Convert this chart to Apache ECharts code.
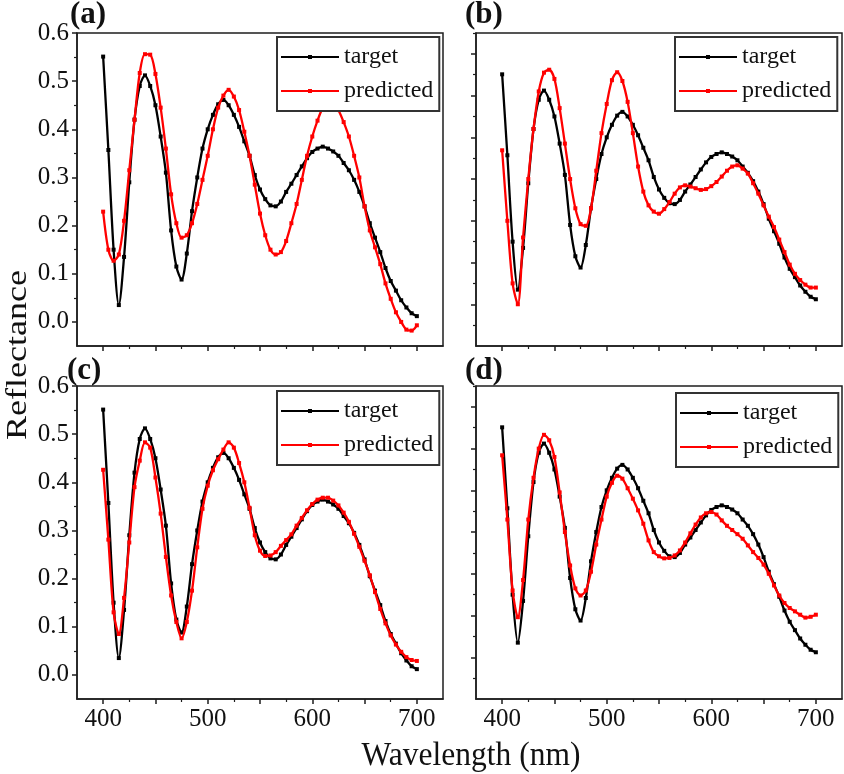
<!DOCTYPE html>
<html>
<head>
<meta charset="utf-8">
<script src="https://cdn.jsdelivr.net/npm/echarts@6/dist/echarts.min.js"></script>
<style>
html,body{margin:0;padding:0;background:#fff;}
#chart{width:844px;height:774px;}
</style>
</head>
<body>
<div id="chart"></div>
<script>
// ---- data ----
const wavelength = [400,405,410,415,420,425,430,435,440,445,450,455,460,465,470,475,480,485,490,495,500,505,510,515,520,525,530,535,540,545,550,555,560,565,570,575,580,585,590,595,600,605,610,615,620,625,630,635,640,645,650,655,660,665,670,675,680,685,690,695,700];

const target = [0.551,0.357,0.15,0.035,0.135,0.29,0.42,0.49,0.512,0.49,0.45,0.385,0.31,0.19,0.115,0.088,0.142,0.23,0.30,0.36,0.40,0.43,0.452,0.461,0.45,0.43,0.405,0.375,0.345,0.305,0.275,0.255,0.242,0.24,0.25,0.27,0.287,0.305,0.323,0.34,0.353,0.36,0.364,0.36,0.354,0.345,0.33,0.315,0.295,0.27,0.24,0.205,0.175,0.145,0.112,0.085,0.065,0.045,0.03,0.018,0.012];

const predictedA = [0.229,0.15,0.127,0.14,0.21,0.315,0.42,0.517,0.556,0.555,0.515,0.445,0.36,0.265,0.205,0.175,0.18,0.205,0.245,0.295,0.345,0.40,0.445,0.47,0.482,0.468,0.44,0.395,0.345,0.285,0.225,0.18,0.15,0.14,0.145,0.168,0.205,0.245,0.295,0.345,0.385,0.418,0.445,0.46,0.46,0.44,0.415,0.385,0.345,0.3,0.24,0.19,0.155,0.12,0.08,0.048,0.02,0.0,-0.016,-0.018,-0.007];

const predictedB = [0.369,0.2,0.05,0.0,0.16,0.30,0.42,0.51,0.555,0.562,0.54,0.47,0.385,0.3,0.23,0.192,0.188,0.23,0.32,0.41,0.48,0.537,0.556,0.535,0.485,0.41,0.33,0.27,0.237,0.222,0.217,0.228,0.245,0.265,0.28,0.285,0.282,0.278,0.274,0.276,0.283,0.293,0.306,0.32,0.33,0.333,0.325,0.313,0.29,0.265,0.237,0.21,0.185,0.155,0.125,0.095,0.073,0.058,0.047,0.04,0.04];

const predictedC = [0.426,0.281,0.13,0.085,0.16,0.275,0.39,0.445,0.483,0.472,0.41,0.335,0.245,0.165,0.11,0.076,0.11,0.175,0.265,0.345,0.393,0.425,0.448,0.468,0.483,0.472,0.44,0.40,0.347,0.29,0.258,0.247,0.248,0.255,0.268,0.28,0.292,0.31,0.326,0.342,0.355,0.364,0.368,0.368,0.362,0.352,0.337,0.318,0.293,0.266,0.237,0.207,0.172,0.137,0.107,0.082,0.063,0.048,0.037,0.031,0.029];

const predictedD = [0.484,0.33,0.16,0.096,0.185,0.33,0.43,0.5,0.533,0.52,0.48,0.395,0.3,0.22,0.165,0.148,0.16,0.205,0.27,0.33,0.385,0.418,0.435,0.428,0.405,0.38,0.352,0.32,0.28,0.252,0.242,0.237,0.238,0.244,0.256,0.275,0.297,0.318,0.335,0.345,0.348,0.342,0.328,0.315,0.305,0.295,0.284,0.268,0.252,0.238,0.222,0.2,0.172,0.148,0.13,0.118,0.11,0.102,0.095,0.097,0.102];

const panelLabels = ['(a)','(b)','(c)','(d)'];
const seriesNames = ['target','predicted'];
const xTickLabels = [400,500,600,700];
const xMajorTicks = [400,450,500,550,600,650,700];
const xMinorTicks = [425,475,525,575,625,675];
const yTickLabels = [0,0.1,0.2,0.3,0.4,0.5,0.6];
const yMinorTicksAC = [0.05,0.15,0.25,0.35,0.45,0.55];
const yMinorTicksBD = [-0.05,0.05,0.15,0.25,0.35,0.45,0.55,0.65];
const xTitle = 'Wavelength (nm)';
const yTitle = 'Reflectance';

// ---- layout ----
const FONT = 'Liberation Serif';
const INK = '#111';
const FRAME = '#1e1e1e';
const grids = [
  {left:77, top:33, width:366, height:313},
  {left:476, top:33, width:366, height:313},
  {left:77, top:386, width:366, height:313},
  {left:476, top:386, width:366, height:313}
];
const yRanges = [[-0.05,0.6],[-0.1,0.65],[-0.05,0.6],[-0.1,0.65]];
const showYLabels = [true,false,true,false];
const showXLabels = [false,false,true,true];
const legendPos = [
  {left:277, top:37},
  {left:675, top:37},
  {left:277, top:391},
  {left:676, top:393}
];
const labelPos = [[70,32],[465,32],[67,388],[465,388]];
const predictedSets = [predictedA, predictedB, predictedC, predictedD];

const xAxis = [], yAxis = [], series = [], legend = [], graphic = [];
grids.forEach((g, i) => {
  xAxis.push({
    type:'value', gridIndex:i, min:375, max:725, position:'bottom',
    axisLine:{show:true, onZero:false, lineStyle:{color:FRAME, width:1.5}},
    axisTick:{show:true, customValues:xMajorTicks, length:5, lineStyle:{color:FRAME, width:1.5}},
    axisLabel:{show:showXLabels[i], customValues:xTickLabels, fontFamily:FONT, fontSize:25, color:INK, margin:8},
    splitLine:{show:false}
  });
  xAxis.push({
    type:'value', gridIndex:i, min:375, max:725, position:'bottom',
    axisLine:{show:false, onZero:false},
    axisTick:{show:true, customValues:xMinorTicks, length:3, lineStyle:{color:FRAME, width:1.2}},
    axisLabel:{show:false},
    splitLine:{show:false}
  });
  yAxis.push({
    type:'value', gridIndex:i, min:yRanges[i][0], max:yRanges[i][1], position:'left',
    axisLine:{show:true, onZero:false, lineStyle:{color:FRAME, width:1.5}},
    axisTick:{show:true, customValues:yTickLabels, length:5, lineStyle:{color:FRAME, width:1.5}},
    axisLabel:{show:showYLabels[i], customValues:yTickLabels, fontFamily:FONT, fontSize:25, color:INK, margin:8,
      formatter:(v)=>Number(v).toFixed(1)},
    splitLine:{show:false}
  });
  yAxis.push({
    type:'value', gridIndex:i, min:yRanges[i][0], max:yRanges[i][1], position:'left',
    axisLine:{show:false, onZero:false},
    axisTick:{show:true, customValues:(i%2===0?yMinorTicksAC:yMinorTicksBD), length:3, lineStyle:{color:FRAME, width:1.2}},
    axisLabel:{show:false},
    splitLine:{show:false}
  });
  const sets = [target, predictedSets[i]];
  const colors = ['#000000','#ff0000'];
  sets.forEach((arr, k) => {
    series.push({
      name: seriesNames[k], type:'line', xAxisIndex:2*i, yAxisIndex:2*i,
      data: wavelength.map((w, j) => [w, arr[j]]),
      smooth:0.3, symbol:'rect', symbolSize:4, showSymbol:true,
      lineStyle:{color:colors[k], width:2.3},
      itemStyle:{color:colors[k]},
      z: 2 + k, animation:false
    });
  });
  legend.push({
    data: seriesNames, orient:'vertical', left:legendPos[i].left, top:legendPos[i].top,
    itemWidth:58, itemHeight:5, itemGap:10,
    padding:[8,6,8,3],
    backgroundColor:'#fff', borderColor:'#333', borderWidth:2,
    textStyle:{fontFamily:FONT, fontSize:24, color:INK, lineHeight:24},
    selectedMode:false
  });
  graphic.push({
    type:'text', left:labelPos[i][0], top:labelPos[i][1]-33,
    style:{text:panelLabels[i], font:'bold 31px "Liberation Serif"', fill:'#111'}
  });
});

graphic.push({
  type:'text', x:471, y:756, scaleX:1.05, scaleY:1.1,
  style:{text:xTitle, font:'30px "Liberation Serif"', fill:'#111', align:'center', verticalAlign:'middle'}
});
graphic.push({
  type:'text', x:18, y:355, rotation:Math.PI/2, scaleX:1.2, scaleY:1.0,
  style:{text:yTitle, font:'30px "Liberation Serif"', fill:'#111', align:'center', verticalAlign:'middle'}
});

const chart = echarts.init(document.getElementById('chart'), null, {renderer:'canvas'});
chart.setOption({
  backgroundColor:'#fff',
  animation:false,
  grid: grids.map(g => Object.assign({show:true, borderColor:FRAME, borderWidth:1.5, backgroundColor:'transparent'}, g)),
  xAxis, yAxis, series, legend, graphic
});
</script>
</body>
</html>
